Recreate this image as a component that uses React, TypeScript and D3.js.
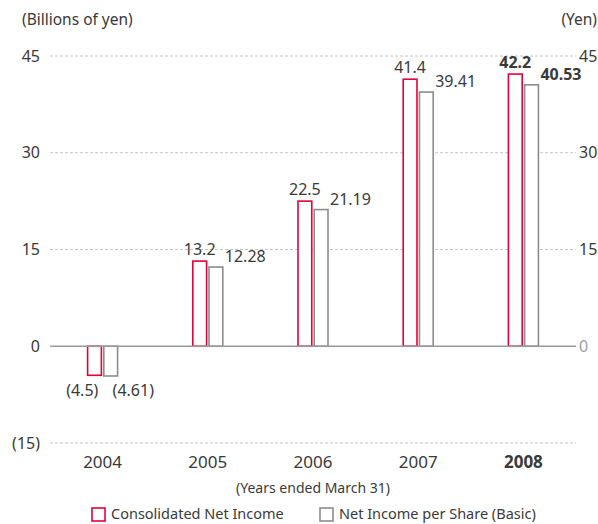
import { useEffect, useRef } from 'react';
import * as d3 from 'd3';

const years = ['2004', '2005', '2006', '2007', '2008'];
const netIncome = [-4.5, 13.2, 22.5, 41.4, 42.2];
const perShare = [-4.61, 12.28, 21.19, 39.41, 40.53];
const netIncomeLabels = ['(4.5)', '13.2', '22.5', '41.4', '42.2'];
const perShareLabels = ['(4.61)', '12.28', '21.19', '39.41', '40.53'];
const ticks = [-15, 0, 15, 30, 45];
const leftTickLabels = ['(15)', '0', '15', '30', '45'];
const rightTickLabels = ['', '0', '15', '30', '45'];

const RED = '#e4003b';
const GRAY = '#8c8c8c';
const TEXT = '#3a3a3a';
const FONT = '"Noto Sans", "Open Sans", sans-serif';

export default function App() {
  const svgRef = useRef<SVGSVGElement>(null);
  const width = 598;
  const height = 524;

  useEffect(() => {
    if (!svgRef.current) return;
    const svg = d3.select(svgRef.current);
    svg.selectAll('*').remove();

    const left = 50;
    const right = 576;

    const y = d3.scaleLinear().domain([-15, 45]).range([443, 56]);
    const x0 = d3.scaleBand<string>().domain(years).range([left, right]);
    const x1 = d3.scaleBand<string>().domain(['ni', 'ps']).range([0, 30]).paddingInner(0.15);
    const bw = x1.bandwidth();
    const groupX = (yr: string) => x0(yr)! + x0.bandwidth() / 2 - 15;

    const g = svg.append('g').style('font-family', FONT);

    // gridlines
    g.append('g')
      .selectAll('line')
      .data(ticks.filter((t) => t !== 0))
      .join('line')
      .attr('x1', left)
      .attr('x2', right)
      .attr('y1', (d) => y(d))
      .attr('y2', (d) => y(d))
      .attr('stroke', '#c4c4c4')
      .attr('stroke-width', 1)
      .attr('stroke-dasharray', '3,2');

    // left tick labels
    g.append('g')
      .selectAll('text')
      .data(ticks)
      .join('text')
      .attr('x', 40)
      .attr('y', (d) => y(d))
      .attr('dy', '0.35em')
      .attr('text-anchor', 'end')
      .attr('font-size', 16)
      .attr('fill', TEXT)
      .text((_d, i) => leftTickLabels[i]);

    // right tick labels
    g.append('g')
      .selectAll('text')
      .data(ticks)
      .join('text')
      .attr('x', 579)
      .attr('y', (d) => y(d))
      .attr('dy', '0.35em')
      .attr('text-anchor', 'start')
      .attr('font-size', 16)
      .attr('fill', (d) => (d === 0 ? '#a0a0a0' : TEXT))
      .text((_d, i) => rightTickLabels[i]);

    // unit labels
    g.append('text')
      .attr('x', 22)
      .attr('y', 25)
      .attr('font-size', 15.5)
      .attr('fill', TEXT)
      .text('(Billions of yen)');
    g.append('text')
      .attr('x', 597)
      .attr('y', 25)
      .attr('text-anchor', 'end')
      .attr('font-size', 15.5)
      .attr('fill', TEXT)
      .text('(Yen)');

    // bars
    const bars = g.append('g');
    years.forEach((yr, i) => {
      const gx = groupX(yr);
      const rx = gx + x1('ni')!;
      const px = gx + x1('ps')!;
      const bold = i === years.length - 1;
      const v1 = netIncome[i];
      const v2 = perShare[i];
      bars.append('rect')
        .attr('x', rx)
        .attr('y', y(Math.max(0, v1)))
        .attr('width', bw)
        .attr('height', Math.abs(y(v1) - y(0)))
        .attr('fill', '#fff')
        .attr('stroke', RED)
        .attr('stroke-width', 1.6);
      bars.append('rect')
        .attr('x', px)
        .attr('y', y(Math.max(0, v2)))
        .attr('width', bw)
        .attr('height', Math.abs(y(v2) - y(0)))
        .attr('fill', '#fff')
        .attr('stroke', GRAY)
        .attr('stroke-width', 1.6);

      if (v1 >= 0) {
        bars.append('text')
          .attr('x', rx + bw / 2)
          .attr('y', y(v1) - 6)
          .attr('text-anchor', 'middle')
          .attr('font-size', 16)
          .attr('font-weight', bold ? 'bold' : 'normal')
          .attr('fill', TEXT)
          .text(netIncomeLabels[i]);
        bars.append('text')
          .attr('x', px + bw + 2)
          .attr('y', y(v2) - 5)
          .attr('text-anchor', 'start')
          .attr('font-size', 16)
          .attr('font-weight', bold ? 'bold' : 'normal')
          .attr('fill', TEXT)
          .text(perShareLabels[i]);
      } else {
        bars.append('text')
          .attr('x', rx + bw - 3)
          .attr('y', y(v2) + 20)
          .attr('text-anchor', 'end')
          .attr('font-size', 16)
          .attr('fill', TEXT)
          .text(netIncomeLabels[i]);
        bars.append('text')
          .attr('x', px + bw - 5)
          .attr('y', y(v2) + 20)
          .attr('text-anchor', 'start')
          .attr('font-size', 16)
          .attr('fill', TEXT)
          .text(perShareLabels[i]);
      }
    });

    // zero line
    g.append('line')
      .attr('x1', left)
      .attr('x2', right)
      .attr('y1', y(0))
      .attr('y2', y(0))
      .attr('stroke', '#9a9a9a')
      .attr('stroke-width', 1.6);

    // year labels
    g.append('g')
      .selectAll('text')
      .data(years)
      .join('text')
      .attr('x', (d) => x0(d)! + x0.bandwidth() / 2)
      .attr('y', 468)
      .attr('text-anchor', 'middle')
      .attr('font-size', 17)
      .attr('font-weight', (_d, i) => (i === years.length - 1 ? 'bold' : 'normal'))
      .attr('fill', TEXT)
      .text((d) => d);

    g.append('text')
      .attr('x', 313)
      .attr('y', 493)
      .attr('text-anchor', 'middle')
      .attr('font-size', 14)
      .attr('fill', TEXT)
      .text('(Years ended March 31)');

    // legend
    const legend = [
      { label: 'Consolidated Net Income', color: RED, x: 92 },
      { label: 'Net Income per Share (Basic)', color: GRAY, x: 320 },
    ];
    legend.forEach((l) => {
      g.append('rect')
        .attr('x', l.x)
        .attr('y', 508)
        .attr('width', 13)
        .attr('height', 13)
        .attr('fill', '#fff')
        .attr('stroke', l.color)
        .attr('stroke-width', 1.6);
      g.append('text')
        .attr('x', l.x + 19)
        .attr('y', 519)
        .attr('font-size', 14.5)
        .attr('fill', TEXT)
        .text(l.label);
    });
  }, []);

  return (
    <svg
      ref={svgRef}
      width={width}
      height={height}
      style={{ position: 'absolute', left: 0, top: 0, background: '#fff' }}
    />
  );
}
